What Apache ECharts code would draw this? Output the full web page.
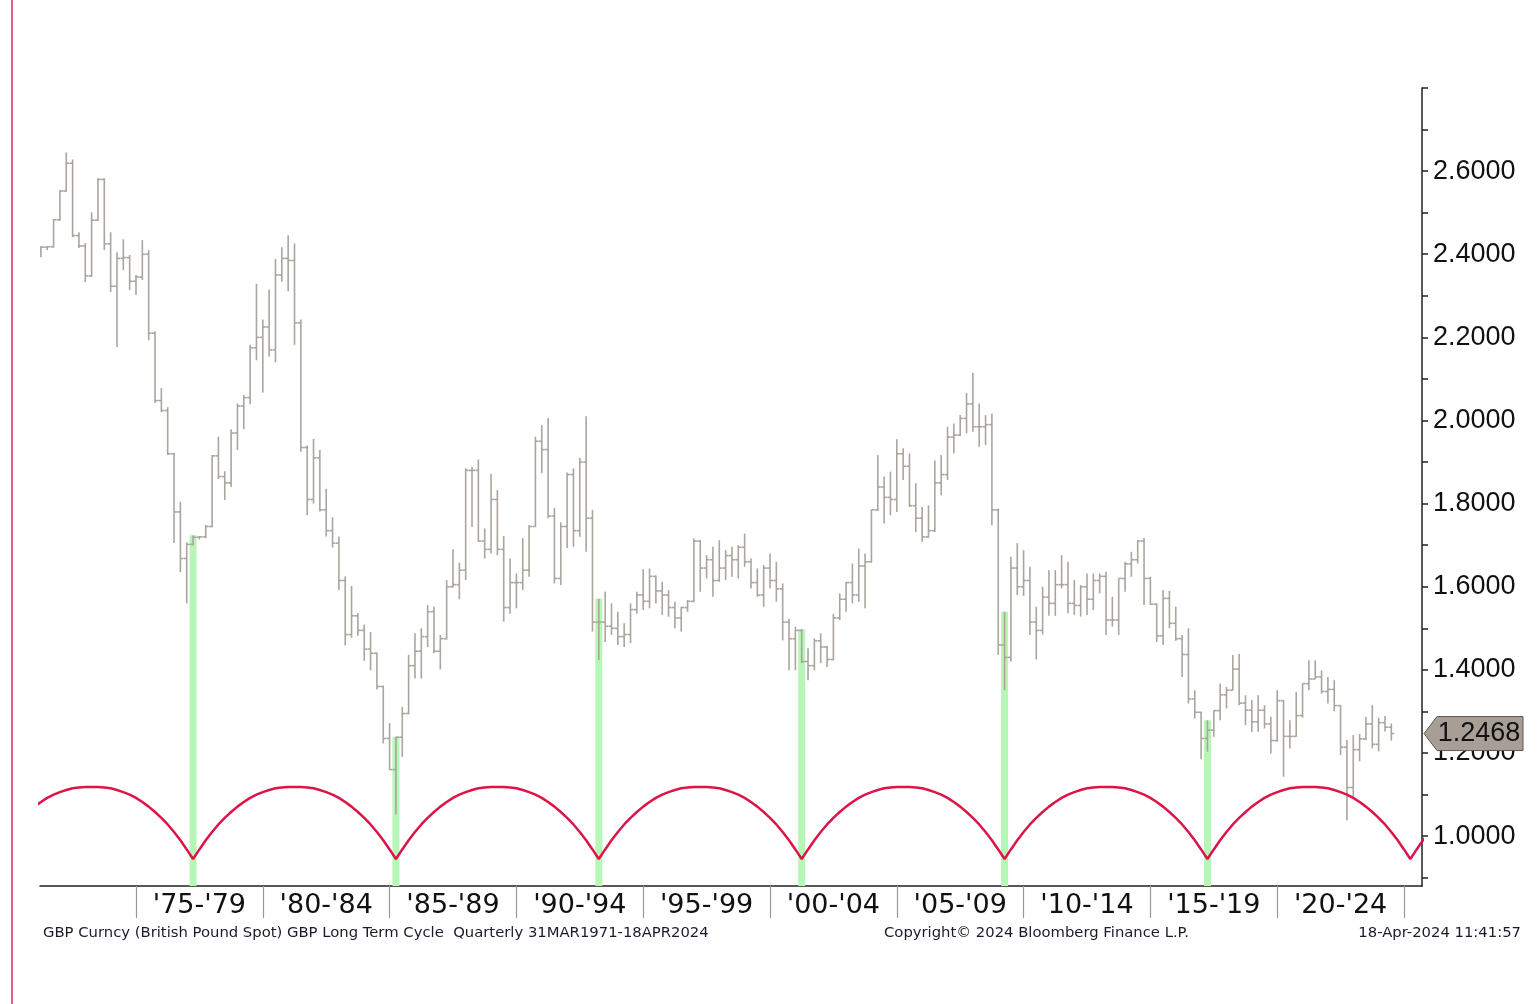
<!DOCTYPE html>
<html><head><meta charset="utf-8">
<script src="https://cdn.jsdelivr.net/npm/echarts@6/dist/echarts.min.js"></script>
<style>html,body{margin:0;padding:0;background:#fff}#c{width:1538px;height:1004px}</style>
</head><body><div id="c"></div>
<script>
// First quarterly bar = quarter ending 31 Mar 1971; one bar per quarter
const firstBarYear = 1971.25;
const firstOpen = 2.405;
const highs = [
 2.420,2.420,2.485,2.554, 2.645,2.628,2.453,2.427, 2.501,2.583,2.583,2.453, 2.405,2.436,2.398,2.350,
 2.434,2.410,2.215,2.078, 2.032,1.922,1.804,1.707, 1.724,1.722,1.749,1.917, 1.961,1.878,1.979,2.041,
 2.062,2.182,2.329,2.243, 2.315,2.389,2.417,2.446, 2.426,2.243,1.940,1.956, 1.929,1.836,1.767,1.721,
 1.625,1.602,1.537,1.509, 1.491,1.442,1.362,1.272, 1.239,1.311,1.436,1.488, 1.500,1.556,1.552,1.484,
 1.616,1.690,1.658,1.885, 1.889,1.906,1.740,1.871, 1.833,1.722,1.668,1.632, 1.717,1.748,1.961,1.989,
 2.006,1.790,1.755,1.875, 1.885,1.910,2.010,1.785, 1.571,1.588,1.560,1.540, 1.512,1.560,1.588,1.642,
 1.644,1.627,1.612,1.592, 1.564,1.552,1.568,1.716, 1.712,1.676,1.696,1.712, 1.688,1.696,1.700,1.728,
 1.668,1.644,1.652,1.680, 1.660,1.608,1.523,1.504, 1.498,1.452,1.476,1.488, 1.458,1.535,1.584,1.612,
 1.656,1.692,1.680,1.786, 1.917,1.865,1.877,1.955, 1.933,1.921,1.849,1.792, 1.796,1.904,1.917,1.985,
 1.993,2.013,2.066,2.115, 2.041,2.013,2.017,1.788, 1.540,1.672,1.705,1.688, 1.648,1.552,1.600,1.640,
 1.640,1.676,1.660,1.616, 1.604,1.632,1.632,1.632, 1.636,1.576,1.620,1.660, 1.684,1.712,1.717,1.624,
 1.560,1.592,1.590,1.552, 1.484,1.500,1.351,1.299, 1.279,1.303,1.367,1.359, 1.436,1.438,1.339,1.327,
 1.339,1.315,1.287,1.351, 1.327,1.279,1.347,1.367, 1.423,1.423,1.399,1.383, 1.375,1.315,1.231,1.243,
 1.246,1.287,1.315,1.285, 1.289,1.271
];
const lows = [
 2.393,2.410,2.416,2.480, 2.550,2.441,2.415,2.333, 2.345,2.480,2.410,2.309, 2.177,2.362,2.314,2.302,
 2.338,2.193,2.042,2.020, 1.917,1.705,1.635,1.560, 1.700,1.714,1.717,1.743, 1.859,1.809,1.840,1.929,
 1.979,2.039,2.145,2.067, 2.154,2.140,2.334,2.311, 2.182,1.925,1.772,1.800, 1.781,1.721,1.694,1.592,
 1.459,1.477,1.482,1.422, 1.399,1.353,1.223,1.159, 1.052,1.191,1.293,1.379, 1.379,1.455,1.440,1.401,
 1.473,1.598,1.570,1.616, 1.744,1.708,1.668,1.680, 1.676,1.516,1.535,1.548, 1.592,1.624,1.744,1.873,
 1.765,1.608,1.604,1.693, 1.696,1.720,1.684,1.492, 1.424,1.467,1.484,1.460, 1.455,1.464,1.535,1.544,
 1.548,1.560,1.532,1.528, 1.500,1.492,1.540,1.563, 1.588,1.620,1.576,1.612, 1.616,1.624,1.620,1.648,
 1.596,1.576,1.552,1.596, 1.564,1.471,1.399,1.399, 1.416,1.375,1.399,1.416, 1.407,1.423,1.520,1.540,
 1.560,1.564,1.548,1.658, 1.782,1.752,1.772,1.780, 1.857,1.792,1.732,1.708, 1.718,1.732,1.820,1.857,
 1.921,1.963,1.969,1.973, 1.937,1.941,1.748,1.436, 1.351,1.420,1.580,1.578, 1.484,1.425,1.485,1.530,
 1.530,1.596,1.536,1.532, 1.528,1.532,1.544,1.584, 1.484,1.504,1.484,1.588, 1.624,1.656,1.556,1.556,
 1.467,1.460,1.500,1.470, 1.383,1.319,1.283,1.185, 1.203,1.239,1.279,1.307, 1.351,1.315,1.267,1.251,
 1.251,1.259,1.199,1.227, 1.143,1.211,1.239,1.285, 1.351,1.378,1.343,1.319, 1.300,1.195,1.038,1.095,
 1.180,1.231,1.211,1.204, 1.252,1.230
];
const closes = [
 2.417,2.418,2.483,2.552, 2.619,2.445,2.420,2.348, 2.482,2.580,2.425,2.323, 2.390,2.392,2.335,2.345,
 2.400,2.210,2.048,2.024, 1.920,1.780,1.668,1.702, 1.719,1.720,1.745,1.915, 1.865,1.850,1.970,2.035,
 2.055,2.175,2.200,2.225, 2.170,2.350,2.390,2.385, 2.235,1.935,1.810,1.910, 1.785,1.735,1.705,1.615,
 1.485,1.530,1.495,1.450, 1.440,1.360,1.235,1.160, 1.238,1.295,1.410,1.445, 1.480,1.540,1.445,1.475,
 1.600,1.605,1.640,1.880, 1.880,1.710,1.690,1.810, 1.690,1.550,1.610,1.610, 1.640,1.745,1.950,1.930,
 1.770,1.620,1.745,1.870, 1.735,1.900,1.765,1.515, 1.515,1.505,1.500,1.480, 1.485,1.545,1.580,1.565,
 1.625,1.590,1.580,1.550, 1.525,1.550,1.565,1.710, 1.645,1.665,1.615,1.645, 1.675,1.665,1.695,1.660,
 1.610,1.580,1.645,1.615, 1.595,1.515,1.475,1.495, 1.420,1.410,1.470,1.455, 1.425,1.525,1.570,1.610,
 1.580,1.650,1.660,1.785, 1.840,1.815,1.810,1.920, 1.890,1.795,1.765,1.720, 1.735,1.850,1.870,1.960,
 1.965,2.005,2.040,1.985, 1.985,1.990,1.785,1.460, 1.430,1.645,1.600,1.615, 1.515,1.495,1.575,1.560,
 1.605,1.605,1.560,1.555, 1.600,1.570,1.615,1.625, 1.520,1.520,1.620,1.655, 1.665,1.710,1.620,1.558,
 1.482,1.572,1.512,1.475, 1.437,1.330,1.298,1.235, 1.255,1.302,1.340,1.351, 1.402,1.320,1.303,1.275,
 1.303,1.270,1.230,1.326, 1.240,1.240,1.290,1.367, 1.378,1.383,1.348,1.353, 1.314,1.214,1.117,1.208,
 1.234,1.270,1.221,1.273, 1.262,1.2468
];
// Long term cycle: trough quarters (index from first bar) and the arc shape between two troughs
const cycleLowQuarters = [-8, 24, 56, 88, 120, 152, 184, 216];
const cycleArc = [0.945,0.968,0.990,1.010,1.028,1.044,1.058,1.071,1.082,1.092,1.100,1.106,1.111,1.115,1.117,1.118,1.118,
                  1.118,1.117,1.115,1.111,1.106,1.100,1.092,1.082,1.071,1.058,1.044,1.028,1.010,0.990,0.968,0.945];
const xTickYears = [1975,1980,1985,1990,1995,2000,2005,2010,2015,2020,2025];
const xLabelYears = [1977.5,1982.5,1987.5,1992.5,1997.5,2002.5,2007.5,2012.5,2017.5,2022.5];
const xLabelNames = ["'75-'79","'80-'84","'85-'89","'90-'94","'95-'99","'00-'04","'05-'09","'10-'14","'15-'19","'20-'24"];
const yTickValues = [0.9,1.0,1.1,1.2,1.3,1.4,1.5,1.6,1.7,1.8,1.9,2.0,2.1,2.2,2.3,2.4,2.5,2.6,2.7,2.8];
const yLabelValues = [1.0,1.2,1.4,1.6,1.8,2.0,2.2,2.4,2.6];
const lastPrice = 1.2468;

const qYear = i => firstBarYear + 0.25 * i;
const ohlc = closes.map((c, i) => [qYear(i), i === 0 ? firstOpen : closes[i - 1], highs[i], lows[i], c]);
const greenBars = cycleLowQuarters.filter(i => i >= 0 && i < highs.length).map(i => [qYear(i), highs[i]]);
const cycleLine = [];
cycleLowQuarters.forEach((c, n) => {
  cycleArc.forEach((v, k) => { if (n === 0 || k > 0) cycleLine.push([qYear(c + k), v]); });
});

const chart = echarts.init(document.getElementById('c'), null, {renderer: 'canvas'});
const barColor = '#aaa59d';
function renderOHLC(params, api) {
  const x = api.value(0);
  const o = api.coord([x, api.value(1)]);
  const h = api.coord([x, api.value(2)]);
  const l = api.coord([x, api.value(3)]);
  const c = api.coord([x, api.value(4)]);
  const px = h[0];
  const t = 3;
  const style = {stroke: barColor, lineWidth: 1.6};
  return {type: 'group', children: [
    {type: 'line', shape: {x1: px, y1: h[1], x2: px, y2: l[1]}, style: style},
    {type: 'line', shape: {x1: px - t, y1: o[1], x2: px, y2: o[1]}, style: style},
    {type: 'line', shape: {x1: px, y1: c[1], x2: px + t, y2: c[1]}, style: style}
  ]};
}

const textFont = '14.8px "DejaVu Sans"';
const option = {
  animation: false,
  backgroundColor: '#ffffff',
  grid: {left: 40, right: 116, top: 88, bottom: 118, containLabel: false},
  xAxis: {
    type: 'value', min: 1971.2145, max: 2025.71,
    axisLine: {show: true, lineStyle: {color: '#222', width: 1.5}},
    axisTick: {show: true, customValues: xTickYears, length: 32, lineStyle: {color: '#999', width: 1.2}},
    axisLabel: {show: true, customValues: xLabelYears, margin: 6,
      formatter: v => xLabelNames[Math.round((v - xLabelYears[0]) / 5)],
      fontFamily: 'DejaVu Sans', fontSize: 27, color: '#111'},
    splitLine: {show: false}
  },
  yAxis: {
    type: 'value', position: 'right', min: 0.88, max: 2.8,
    axisLine: {show: true, lineStyle: {color: '#222', width: 1.5}},
    axisTick: {show: true, customValues: yTickValues, length: 6, inside: false, lineStyle: {color: '#222', width: 1.5}},
    axisLabel: {show: true, customValues: yLabelValues, margin: 11,
      formatter: v => v.toFixed(4), fontFamily: 'Liberation Sans', fontSize: 27, color: '#111'},
    splitLine: {show: false}
  },
  series: [
    {type: 'bar', data: greenBars, barWidth: 7, z: 1, itemStyle: {color: '#b6f6b6'}, silent: true},
    {type: 'custom', renderItem: renderOHLC, data: ohlc, encode: {x: 0, y: [1, 2, 3, 4]}, z: 2, clip: true, silent: true},
    {type: 'line', data: cycleLine, showSymbol: false, z: 3, clip: true, silent: true,
     lineStyle: {color: '#dc1448', width: 2.5}}
  ],
  graphic: [
    {type: 'line', shape: {x1: 12, y1: 0, x2: 12, y2: 1004}, style: {stroke: '#d8285a', lineWidth: 1.5}},
    {type: 'text', left: 43, top: 926, style: {text: 'GBP Curncy (British Pound Spot) GBP Long Term Cycle  Quarterly 31MAR1971-18APR2024', font: textFont, fill: '#1b1b2b'}},
    {type: 'text', left: 884, top: 926, style: {text: 'Copyright\u00a9 2024 Bloomberg Finance L.P.', font: textFont, fill: '#1b1b2b'}},
    {type: 'text', right: 17, top: 926, style: {text: '18-Apr-2024 11:41:57', font: textFont, fill: '#1b1b2b'}}
  ]
};
chart.setOption(option);

const ax = chart.convertToPixel({xAxisIndex: 0}, 2025.71);
const py = chart.convertToPixel({yAxisIndex: 0}, lastPrice);
chart.setOption({graphic: option.graphic.concat([
  {type: 'polygon', z: 100, shape: {points: [[ax + 2, py], [ax + 15, py - 17], [1523, py - 17], [1523, py + 17], [ax + 15, py + 17]]},
   style: {fill: '#a79f95', stroke: '#5e5851', lineWidth: 1}},
  {type: 'text', z: 101, x: 1479, y: py, style: {text: lastPrice.toFixed(4), font: '27px "Liberation Sans"', fill: '#111', align: 'center', verticalAlign: 'middle'}}
])});
</script>
</body></html>
